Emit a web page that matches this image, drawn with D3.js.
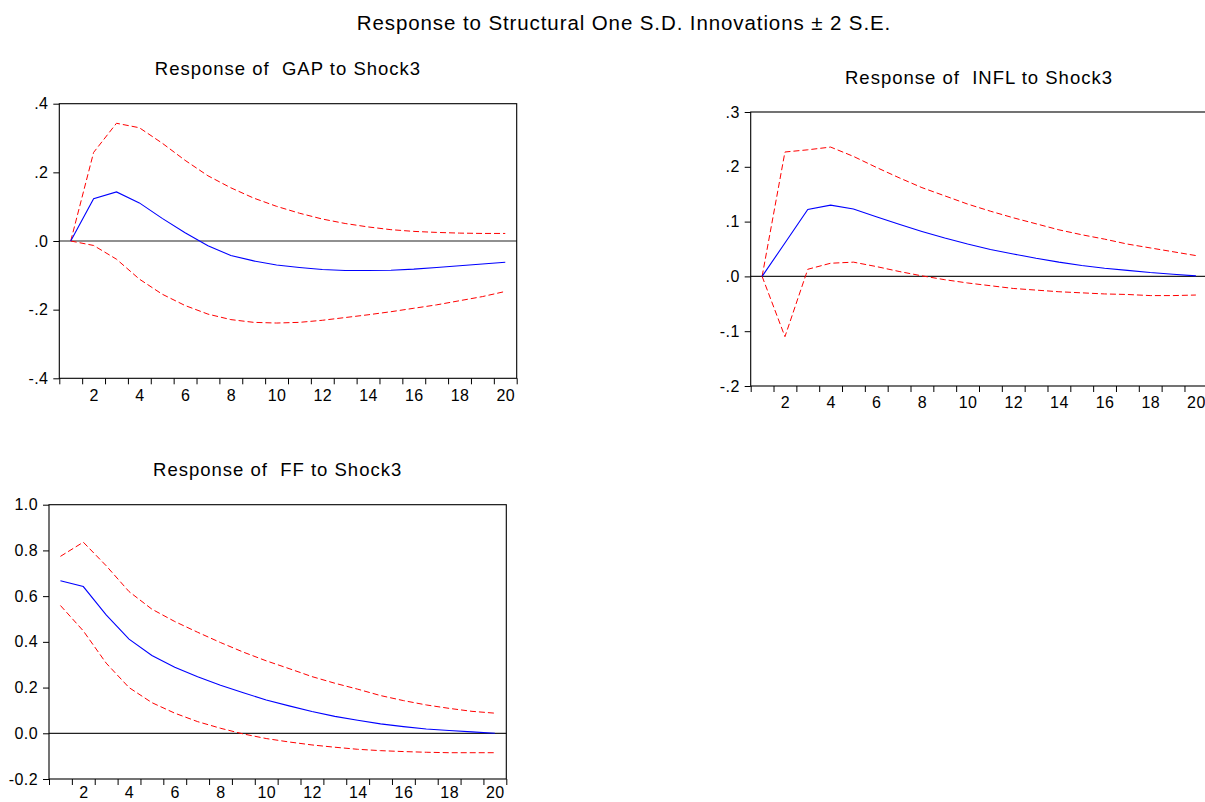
<!DOCTYPE html>
<html>
<head>
<meta charset="utf-8">
<script src="https://cdn.jsdelivr.net/npm/d3@7"></script>
<style>
  html, body { margin: 0; padding: 0; background: #fff; }
  svg { display: block; }
  text { font-family: "Liberation Sans", Arial, Helvetica, sans-serif; fill: #000; }
</style>
</head>
<body>
<script>
// ---------- data ----------
const periods = [1,2,3,4,5,6,7,8,9,10,11,12,13,14,15,16,17,18,19,20];
const xTickLabels = [2,4,6,8,10,12,14,16,18,20];

const mainTitle = "Response to Structural One S.D. Innovations \u00b1 2 S.E.";

const gapTitle = "Response of  GAP to Shock3";
const gapResp  = [0.000,0.123,0.143,0.111,0.066,0.024,-0.014,-0.042,-0.058,-0.070,-0.077,-0.083,-0.086,-0.086,-0.085,-0.082,-0.077,-0.072,-0.067,-0.062];
const gapUpper = [0.000,0.258,0.343,0.330,0.285,0.235,0.190,0.155,0.125,0.101,0.081,0.064,0.051,0.041,0.033,0.028,0.025,0.023,0.022,0.022];
const gapLower = [0.000,-0.013,-0.053,-0.111,-0.155,-0.188,-0.213,-0.229,-0.237,-0.239,-0.237,-0.231,-0.223,-0.215,-0.206,-0.196,-0.186,-0.174,-0.162,-0.147];
const gapYTicks = [0.4,0.2,0.0,-0.2,-0.4];
const gapYLabels = [".4",".2",".0","-.2","-.4"];

const inflTitle = "Response of  INFL to Shock3";
const inflResp  = [0.000,0.061,0.122,0.130,0.123,0.109,0.095,0.082,0.070,0.059,0.049,0.041,0.033,0.026,0.020,0.015,0.011,0.007,0.004,0.001];
const inflUpper = [0.000,0.227,0.231,0.236,0.219,0.199,0.180,0.162,0.147,0.132,0.119,0.107,0.096,0.085,0.076,0.068,0.059,0.052,0.045,0.038];
const inflLower = [0.000,-0.110,0.013,0.024,0.026,0.018,0.009,0.001,-0.006,-0.012,-0.017,-0.022,-0.025,-0.028,-0.030,-0.032,-0.033,-0.035,-0.035,-0.034];
const inflYTicks = [0.3,0.2,0.1,0.0,-0.1,-0.2];
const inflYLabels = [".3",".2",".1",".0","-.1","-.2"];

const ffTitle = "Response of  FF to Shock3";
const ffResp  = [0.667,0.642,0.518,0.412,0.340,0.289,0.247,0.210,0.177,0.146,0.120,0.095,0.074,0.057,0.041,0.029,0.019,0.012,0.006,0.000];
const ffUpper = [0.774,0.836,0.733,0.620,0.543,0.489,0.442,0.397,0.355,0.317,0.283,0.248,0.219,0.193,0.165,0.143,0.124,0.109,0.096,0.088];
const ffLower = [0.559,0.448,0.307,0.200,0.134,0.088,0.051,0.022,-0.003,-0.023,-0.038,-0.051,-0.061,-0.070,-0.076,-0.080,-0.083,-0.085,-0.085,-0.085];
const ffYTicks = [1.0,0.8,0.6,0.4,0.2,0.0,-0.2];
const ffYLabels = ["1.0","0.8","0.6","0.4","0.2","0.0","-0.2"];

// ---------- layout ----------
const W = 1205, H = 802;
const svg = d3.select("body").append("svg").attr("width", W).attr("height", H);

svg.append("text")
  .attr("x", 624).attr("y", 30)
  .attr("text-anchor", "middle")
  .style("font-size", "20.5px")
  .style("letter-spacing", "0.9px")
  .text(mainTitle);

const panels = [
  { title: gapTitle,  resp: gapResp,  up: gapUpper,  lo: gapLower,  ticks: gapYTicks,  labels: gapYLabels,  dom: [-0.4, 0.4],  x: 59.3,  y: 103.7, w: 457.4, h: 274.6, lpad: 11 },
  { title: inflTitle, resp: inflResp, up: inflUpper, lo: inflLower, ticks: inflYTicks, labels: inflYLabels, dom: [-0.2, 0.3],  x: 750.7, y: 112,   w: 456.6, h: 274.0, lpad: 11 },
  { title: ffTitle,   resp: ffResp,   up: ffUpper,   lo: ffLower,   ticks: ffYTicks,   labels: ffYLabels,   dom: [-0.2, 1.0],  x: 49,    y: 504.7, w: 457.3, h: 274.3, lpad: 8 }
];

panels.forEach(p => {
  const g = svg.append("g").attr("transform", `translate(${p.x},${p.y})`);
  const x = d3.scaleLinear().domain([0.5, 20.5]).range([0, p.w]);
  const y = d3.scaleLinear().domain(p.dom).range([p.h, 0]);

  // title
  g.append("text")
    .attr("x", p.w / 2).attr("y", -28.5)
    .attr("text-anchor", "middle")
    .style("font-size", "18.5px")
    .style("letter-spacing", "1px")
    .style("white-space", "pre")
    .text(p.title);

  // y axis
  const ya = d3.axisLeft(y).tickValues(p.ticks).tickSize(6).tickPadding(5)
    .tickFormat((d, i) => p.labels[i]);
  const yg = g.append("g").call(ya);
  yg.select(".domain").remove();
  yg.selectAll("line").attr("stroke", "#000");
  yg.selectAll("text").style("font-size", "16px").style("letter-spacing", "0.4px")
    .style("font-family", '"Liberation Sans", Arial, sans-serif');

  // x tick marks at period boundaries
  const bounds = periods.map(d => d - 0.5).concat([periods[periods.length - 1] + 0.5]);
  const xm = d3.axisBottom(x).tickValues(bounds).tickSize(6).tickFormat("");
  const xmg = g.append("g").attr("transform", `translate(0,${p.h})`).call(xm);
  xmg.select(".domain").remove();
  xmg.selectAll("line").attr("stroke", "#000");

  // x labels at period centres
  const xl = d3.axisBottom(x).tickValues(xTickLabels).tickSize(0).tickPadding(p.lpad)
    .tickFormat(d3.format("d"));
  const xlg = g.append("g").attr("transform", `translate(0,${p.h})`).call(xl);
  xlg.select(".domain").remove();
  xlg.selectAll("text").style("font-size", "16px").style("letter-spacing", "0.4px")
    .style("font-family", '"Liberation Sans", Arial, sans-serif');

  // zero line
  g.append("line")
    .attr("x1", 0).attr("x2", p.w)
    .attr("y1", y(0)).attr("y2", y(0))
    .attr("stroke", "#222").attr("stroke-width", 1.2);

  const line = d3.line().x((d, i) => x(periods[i])).y(d => y(d));

  g.append("path").datum(p.up).attr("d", line)
    .attr("fill", "none").attr("stroke", "#ff0000").attr("stroke-width", 1)
    .attr("stroke-dasharray", "6,3");
  g.append("path").datum(p.lo).attr("d", line)
    .attr("fill", "none").attr("stroke", "#ff0000").attr("stroke-width", 1)
    .attr("stroke-dasharray", "6,3");
  g.append("path").datum(p.resp).attr("d", line)
    .attr("fill", "none").attr("stroke", "#0000ff").attr("stroke-width", 1.1);

  // frame
  g.append("rect").attr("x", 0).attr("y", 0).attr("width", p.w).attr("height", p.h)
    .attr("fill", "none").attr("stroke", "#000").attr("stroke-width", 1.1);
});
</script>
</body>
</html>
